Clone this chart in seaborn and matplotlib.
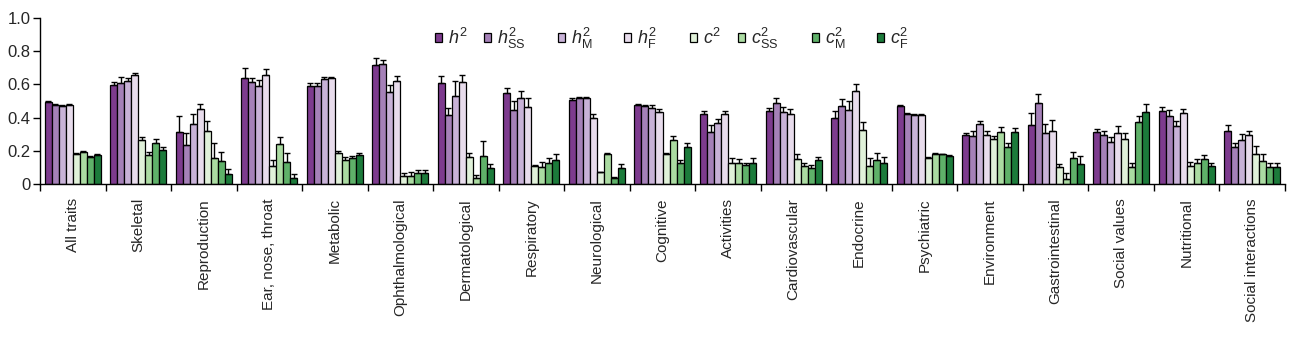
import numpy as np
import pandas as pd
import matplotlib
matplotlib.use("Agg")
import matplotlib.pyplot as plt
import seaborn as sns

categories = ["All traits", "Skeletal", "Reproduction", "Ear, nose, throat", "Metabolic",
              "Ophthalmological", "Dermatological", "Respiratory", "Neurological", "Cognitive",
              "Activities", "Cardiovascular", "Endocrine", "Psychiatric", "Environment",
              "Gastrointestinal", "Social values", "Nutritional", "Social interactions"]

measures = [r"$h^2$", r"$h^2_{\mathrm{SS}}$", r"$h^2_{\mathrm{M}}$", r"$h^2_{\mathrm{F}}$",
            r"$c^2$", r"$c^2_{\mathrm{SS}}$", r"$c^2_{\mathrm{M}}$", r"$c^2_{\mathrm{F}}$"]

h2 = [0.496, 0.596, 0.312, 0.636, 0.59, 0.716, 0.606, 0.546, 0.506, 0.476, 0.422, 0.44, 0.396, 0.47, 0.296, 0.356, 0.312, 0.44, 0.32]
h2_err = [0.005, 0.02, 0.1, 0.064, 0.016, 0.04, 0.044, 0.034, 0.014, 0.005, 0.02, 0.02, 0.044, 0.005, 0.01, 0.07, 0.018, 0.026, 0.036]

hSS = [0.476, 0.606, 0.236, 0.616, 0.59, 0.722, 0.416, 0.446, 0.52, 0.47, 0.316, 0.49, 0.47, 0.422, 0.292, 0.486, 0.296, 0.412, 0.226]
hSS_err = [0.005, 0.04, 0.07, 0.02, 0.02, 0.026, 0.04, 0.056, 0.006, 0.006, 0.04, 0.026, 0.044, 0.004, 0.028, 0.056, 0.024, 0.034, 0.024]

hM = [0.47, 0.62, 0.362, 0.59, 0.632, 0.556, 0.53, 0.516, 0.516, 0.46, 0.366, 0.432, 0.446, 0.416, 0.362, 0.306, 0.256, 0.35, 0.266]
hM_err = [0.005, 0.02, 0.058, 0.036, 0.01, 0.04, 0.09, 0.046, 0.01, 0.014, 0.024, 0.034, 0.054, 0.004, 0.02, 0.056, 0.03, 0.032, 0.034]

hF = [0.476, 0.656, 0.452, 0.656, 0.636, 0.62, 0.612, 0.462, 0.396, 0.432, 0.42, 0.42, 0.562, 0.416, 0.296, 0.322, 0.306, 0.426, 0.296]
hF_err = [0.005, 0.014, 0.028, 0.034, 0.006, 0.032, 0.044, 0.058, 0.024, 0.018, 0.02, 0.032, 0.038, 0.004, 0.026, 0.066, 0.044, 0.026, 0.026]

c2 = [0.18, 0.266, 0.322, 0.11, 0.19, 0.05, 0.166, 0.11, 0.072, 0.182, 0.13, 0.15, 0.326, 0.16, 0.27, 0.106, 0.272, 0.112, 0.182]
c2_err = [0.005, 0.02, 0.06, 0.036, 0.012, 0.016, 0.024, 0.006, 0.004, 0.008, 0.026, 0.03, 0.05, 0.006, 0.02, 0.016, 0.034, 0.024, 0.05]

cSS = [0.196, 0.176, 0.16, 0.242, 0.146, 0.05, 0.036, 0.106, 0.182, 0.266, 0.13, 0.11, 0.112, 0.182, 0.316, 0.032, 0.106, 0.126, 0.142]
cSS_err = [0.005, 0.02, 0.086, 0.044, 0.02, 0.022, 0.02, 0.03, 0.008, 0.024, 0.02, 0.016, 0.048, 0.004, 0.03, 0.034, 0.024, 0.024, 0.04]

cM = [0.162, 0.246, 0.14, 0.132, 0.16, 0.066, 0.172, 0.126, 0.04, 0.126, 0.116, 0.1, 0.146, 0.18, 0.226, 0.156, 0.376, 0.15, 0.106]
cM_err = [0.005, 0.024, 0.056, 0.058, 0.012, 0.02, 0.088, 0.03, 0.006, 0.02, 0.014, 0.016, 0.044, 0.004, 0.02, 0.04, 0.036, 0.026, 0.024]

cF = [0.176, 0.206, 0.062, 0.036, 0.176, 0.066, 0.096, 0.146, 0.096, 0.222, 0.13, 0.146, 0.126, 0.172, 0.312, 0.12, 0.432, 0.112, 0.106]
cF_err = [0.005, 0.02, 0.028, 0.026, 0.014, 0.02, 0.024, 0.036, 0.024, 0.028, 0.03, 0.02, 0.04, 0.004, 0.028, 0.052, 0.05, 0.014, 0.024]

yticks = [0, 0.2, 0.4, 0.6, 0.8, 1.0]
ytick_labels = ["0", "0.2", "0.4", "0.6", "0.8", "1.0"]

colors = ["#7D3B8E", "#A581B8", "#C8B2D7", "#E8DCEC",
          "#E0F1D9", "#ABDBA2", "#5FB169", "#1C7B3B"]

values = [h2, hSS, hM, hF, c2, cSS, cM, cF]
errors = [h2_err, hSS_err, hM_err, hF_err, c2_err, cSS_err, cM_err, cF_err]

rows = []
for m, vals, errs in zip(measures, values, errors):
    for cat, v, e in zip(categories, vals, errs):
        rows.append({"category": cat, "measure": m, "value": v, "err": e})
df = pd.DataFrame(rows)

sns.set_theme(style="ticks")
plt.rcParams["font.family"] = ["Liberation Sans", "DejaVu Sans"]
plt.rcParams["mathtext.fontset"] = "custom"
plt.rcParams["mathtext.rm"] = "Liberation Sans"
plt.rcParams["mathtext.it"] = "Liberation Sans:italic"
plt.rcParams["mathtext.bf"] = "Liberation Sans:bold"

fig = plt.figure(figsize=(13.02, 3.4), dpi=100)
ax = fig.add_axes([40 / 1302, 155.7 / 340, 1245 / 1302, 166.6 / 340])

sns.barplot(data=df, x="category", y="value", hue="measure", order=categories,
            hue_order=measures, palette=colors, edgecolor="black", linewidth=0.9,
            width=0.855, errorbar=None, saturation=1, ax=ax)

for cont, errs in zip(ax.containers, errors):
    xs = [p.get_x() + p.get_width() / 2 for p in cont.patches]
    hs = [p.get_height() for p in cont.patches]
    ax.errorbar(xs, hs, yerr=[np.zeros(len(errs)), errs], fmt="none",
                ecolor="black", elinewidth=1.0, capsize=2.2, capthick=1.0, zorder=3)

ax.set_xlim(-0.5, len(categories) - 0.5)
ax.set_ylim(0, 1.0)
ax.set_yticks(yticks)
ax.set_yticklabels(ytick_labels, fontsize=12)
ax.set_xticks(range(len(categories)))
ax.set_xticklabels(categories, rotation=90, fontsize=11)
ax.set_xticks(np.arange(-0.5, len(categories), 1.0), minor=True)
ax.tick_params(axis="x", which="major", length=0, pad=10)
ax.tick_params(axis="x", which="minor", length=5, width=1.0, color="black", direction="out")
ax.tick_params(axis="y", length=5, width=1.0, color="black", direction="out", pad=2)
ax.set_xlabel("")
ax.set_ylabel("")
for s in ["top", "right"]:
    ax.spines[s].set_visible(False)
for s in ["left", "bottom"]:
    ax.spines[s].set_color("black")
    ax.spines[s].set_linewidth(1.0)

handles, labels = ax.get_legend_handles_labels()
if ax.get_legend() is not None:
    ax.get_legend().remove()

legend_x = [435, 484, 558, 624, 690, 738, 812, 877]
fs = 13
for h, lab, lx in zip(handles, labels, legend_x):
    fig.legend([h], [lab], loc="center left", bbox_to_anchor=(lx / 1302, 1 - 38 / 340),
               frameon=False, fontsize=fs, handlelength=0.4, handleheight=0.4,
               handletextpad=0.33, borderpad=0, borderaxespad=0)

fig.savefig("out.png", dpi=100)
